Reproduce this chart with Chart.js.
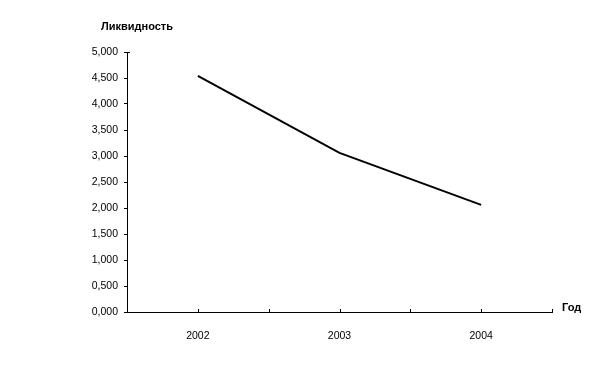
<!DOCTYPE html>
<html>
<head>
<meta charset="utf-8">
<script src="https://cdn.jsdelivr.net/npm/chart.js@4/dist/chart.umd.min.js"></script>
<style>
  html, body { margin: 0; padding: 0; background: #fff; }
  #wrap { width: 590px; height: 375px; }
</style>
</head>
<body>
<div id="wrap"><canvas id="chart"></canvas></div>
<script>
// DATA
var years = ['2002', '2003', '2004'];
var liquidity = [4.54, 3.06, 2.06];
var yTitle = 'Ликвидность';
var xTitle = 'Год';

var FONT = "'Liberation Sans', Arial, sans-serif";

// x positions are category centres on a 0..3 linear axis
var points = years.map(function (y, i) { return { x: i + 0.5, y: liquidity[i] }; });

// small inward ticks on the x axis and the axis titles
var extras = {
  id: 'extras',
  afterDraw: function (chart) {
    var ctx = chart.ctx;
    var area = chart.chartArea;
    var xs = chart.scales.x;
    ctx.save();
    ctx.strokeStyle = '#000';
    ctx.lineWidth = 1;
    xs.ticks.forEach(function (t) {
      var px = Math.round(xs.getPixelForValue(t.value)) + 0.5;
      ctx.beginPath();
      ctx.moveTo(px, area.bottom);
      ctx.lineTo(px, area.bottom - 3);
      ctx.stroke();
    });
    // top corner tick on the y axis
    ctx.beginPath();
    ctx.moveTo(area.left, Math.round(area.top) + 0.5);
    ctx.lineTo(area.left + 3, Math.round(area.top) + 0.5);
    ctx.stroke();

    ctx.fillStyle = '#000';
    ctx.font = 'bold 11px ' + FONT;
    ctx.textBaseline = 'middle';
    ctx.textAlign = 'left';
    ctx.fillText(yTitle, area.left - 26, area.top - 25);
    ctx.fillText(xTitle, area.right + 10, area.bottom - 4);
    ctx.restore();
  }
};

new Chart(document.getElementById('chart'), {
  type: 'line',
  data: {
    datasets: [{
      data: points,
      borderColor: '#000',
      borderWidth: 2,
      pointRadius: 0,
      tension: 0,
      fill: false
    }]
  },
  options: {
    responsive: true,
    maintainAspectRatio: false,
    animation: false,
    layout: { padding: { left: 0, top: 52, right: 38, bottom: 0 } },
    plugins: {
      legend: { display: false },
      tooltip: { enabled: false }
    },
    scales: {
      x: {
        type: 'linear',
        min: 0,
        max: 3,
        afterFit: function (s) { s.height = 63; },
        afterBuildTicks: function (s) {
          var t = [];
          for (var v = 0; v <= 6; v++) { t.push({ value: v / 2 }); }
          s.ticks = t;
        },
        grid: { display: false },
        border: { display: true, color: '#000', width: 1 },
        ticks: {
          autoSkip: false,
          maxRotation: 0,
          padding: 10,
          color: '#000',
          font: { family: FONT, size: 10.5 },
          callback: function (v) {
            var i = Math.floor(v);
            return (v - i === 0.5 && years[i]) ? years[i] : '';
          }
        }
      },
      y: {
        min: 0,
        max: 5,
        afterFit: function (s) { s.width = 127; },
        grid: {
          display: true,
          drawOnChartArea: false,
          drawTicks: true,
          tickLength: 3,
          color: '#000'
        },
        border: { display: true, color: '#000', width: 1 },
        ticks: {
          stepSize: 0.5,
          padding: 6,
          color: '#000',
          font: { family: FONT, size: 10.5 },
          callback: function (v) { return v.toFixed(3).replace('.', ','); }
        }
      }
    }
  },
  plugins: [extras]
});
</script>
</body>
</html>
